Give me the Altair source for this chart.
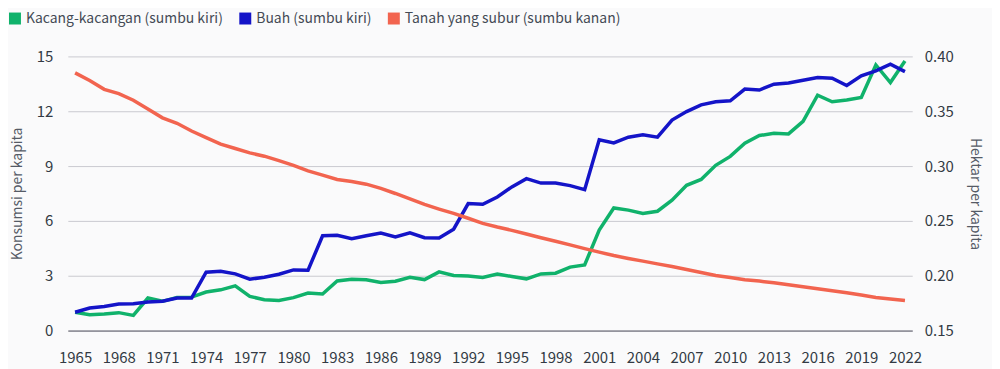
import altair as alt
import pandas as pd

years = list(range(1965, 2023))

kacang = [1.0, 0.87, 0.91, 0.98, 0.83, 1.78, 1.6, 1.81, 1.83, 2.11, 2.23, 2.45, 1.87, 1.69, 1.65,
          1.80, 2.05, 2.0, 2.71, 2.81, 2.78, 2.63, 2.70, 2.92, 2.79, 3.21, 3.01, 2.99, 2.90, 3.09,
          2.96, 2.83, 3.10, 3.14, 3.47, 3.59, 5.50, 6.71, 6.59, 6.41, 6.53, 7.13, 7.95, 8.27, 9.04,
          9.53, 10.25, 10.67, 10.79, 10.76, 11.45, 12.88, 12.52, 12.61, 12.75, 14.53, 13.57, 14.75]

buah = [1.0, 1.23, 1.32, 1.45, 1.47, 1.56, 1.6, 1.78, 1.78, 3.19, 3.25, 3.10, 2.81, 2.92, 3.08,
        3.32, 3.30, 5.19, 5.21, 5.03, 5.19, 5.33, 5.12, 5.35, 5.08, 5.06, 5.55, 6.95, 6.91, 7.31,
        7.86, 8.31, 8.07, 8.07, 7.93, 7.71, 10.44, 10.27, 10.58, 10.71, 10.58, 11.52, 11.98, 12.35,
        12.52, 12.57, 13.21, 13.16, 13.48, 13.55, 13.70, 13.84, 13.81, 13.41, 13.94, 14.21, 14.57, 14.17]

tanah = [0.385, 0.378, 0.370, 0.366, 0.360, 0.352, 0.344, 0.339, 0.332, 0.326, 0.320, 0.316, 0.312,
         0.309, 0.305, 0.3007, 0.2956, 0.2917, 0.2878, 0.286, 0.2835, 0.2796, 0.275, 0.270, 0.265,
         0.2608, 0.2569, 0.2524, 0.2478, 0.2444, 0.2414, 0.238, 0.2347, 0.2315, 0.2281, 0.2247,
         0.2215, 0.2184, 0.2157, 0.2133, 0.2108, 0.2084, 0.2057, 0.2030, 0.2002, 0.1984, 0.1963,
         0.1951, 0.1936, 0.1918, 0.19, 0.1881, 0.1863, 0.1845, 0.1824, 0.1802, 0.1788, 0.1775]

s_kacang = "Kacang-kacangan (sumbu kiri)"
s_buah = "Buah (sumbu kiri)"
s_tanah = "\u00a0\u00a0Tanah yang subur (sumbu kanan)"
series = [s_kacang, s_buah, s_tanah]
colors = ["#10b26b", "#1414c8", "#f2644f"]

x_ticks = list(range(1965, 2023, 3))
left_ticks = [0, 3, 6, 9, 12, 15]
right_ticks = [0.15, 0.20, 0.25, 0.30, 0.35, 0.40]

left_df = pd.DataFrame({
    "Tahun": years * 2,
    "Nilai": kacang + buah,
    "Seri": [s_kacang] * len(years) + [s_buah] * len(years),
    "ord": [2] * len(years) + [1] * len(years),
})
right_df = pd.DataFrame({"Tahun": years, "Nilai": tanah, "Seri": [s_tanah] * len(years)})

FONT = "Noto Sans CJK JP"

x_enc = alt.X("Tahun:Q",
              scale=alt.Scale(domain=[1964.5, 2022.5], nice=False, zero=False),
              axis=alt.Axis(values=x_ticks, format="d", title=None, grid=False, ticks=False,
                            labelPadding=20, labelFlush=False, domainColor="#5a5a66",
                            labelFontSize=15, labelColor="#333a44"))

color_enc = alt.Color("Seri:N",
                      scale=alt.Scale(domain=series, range=colors),
                      legend=alt.Legend(title=None, orient="none", direction="horizontal",
                                        legendX=-60, legendY=-45, symbolType="square",
                                        symbolSize=36, symbolStrokeWidth=6, symbolOpacity=1,
                                        labelFontSize=14, labelColor="#444a55", labelOffset=4,
                                        columnPadding=7, labelLimit=400))

right = alt.Chart(right_df).mark_line(strokeWidth=3.5).encode(
    x=x_enc,
    y=alt.Y("Nilai:Q", scale=alt.Scale(domain=[0.15, 0.40], nice=False, zero=False),
            axis=alt.Axis(orient="right", values=right_ticks, format=".2f",
                          title="Hektar per kapita", grid=False, ticks=False, domain=False,
                          labelPadding=12, labelFontSize=15, labelColor="#333a44",
                          titleFontSize=14, titleFontWeight="normal", titleColor="#555b66",
                          titlePadding=14)),
    color=color_enc,
)

left = alt.Chart(left_df).mark_line(strokeWidth=3.5).encode(
    x=x_enc,
    y=alt.Y("Nilai:Q", scale=alt.Scale(domain=[0, 15], nice=False),
            axis=alt.Axis(orient="left", values=left_ticks, title="Konsumsi per kapita",
                          grid=True, gridColor="#cacad0", gridWidth=1, ticks=False, domain=False,
                          labelPadding=15, labelFontSize=15, labelColor="#333a44",
                          titleFontSize=14, titleFontWeight="normal", titleColor="#555b66",
                          titlePadding=12)),
    color=color_enc,
    order=alt.Order("ord:Q"),
    detail="Seri:N",
)

chart = alt.layer(left, right).resolve_scale(y="independent").properties(
    width=847, height=275,
    autosize=alt.AutoSizeParams(type="none"),
    padding={"left": 60, "top": 48, "right": 80, "bottom": 40},
    background="#fafafb",
).configure(font=FONT).configure_view(stroke=None)

chart.save("out.html", embed_options={"renderer": "svg", "actions": False})
